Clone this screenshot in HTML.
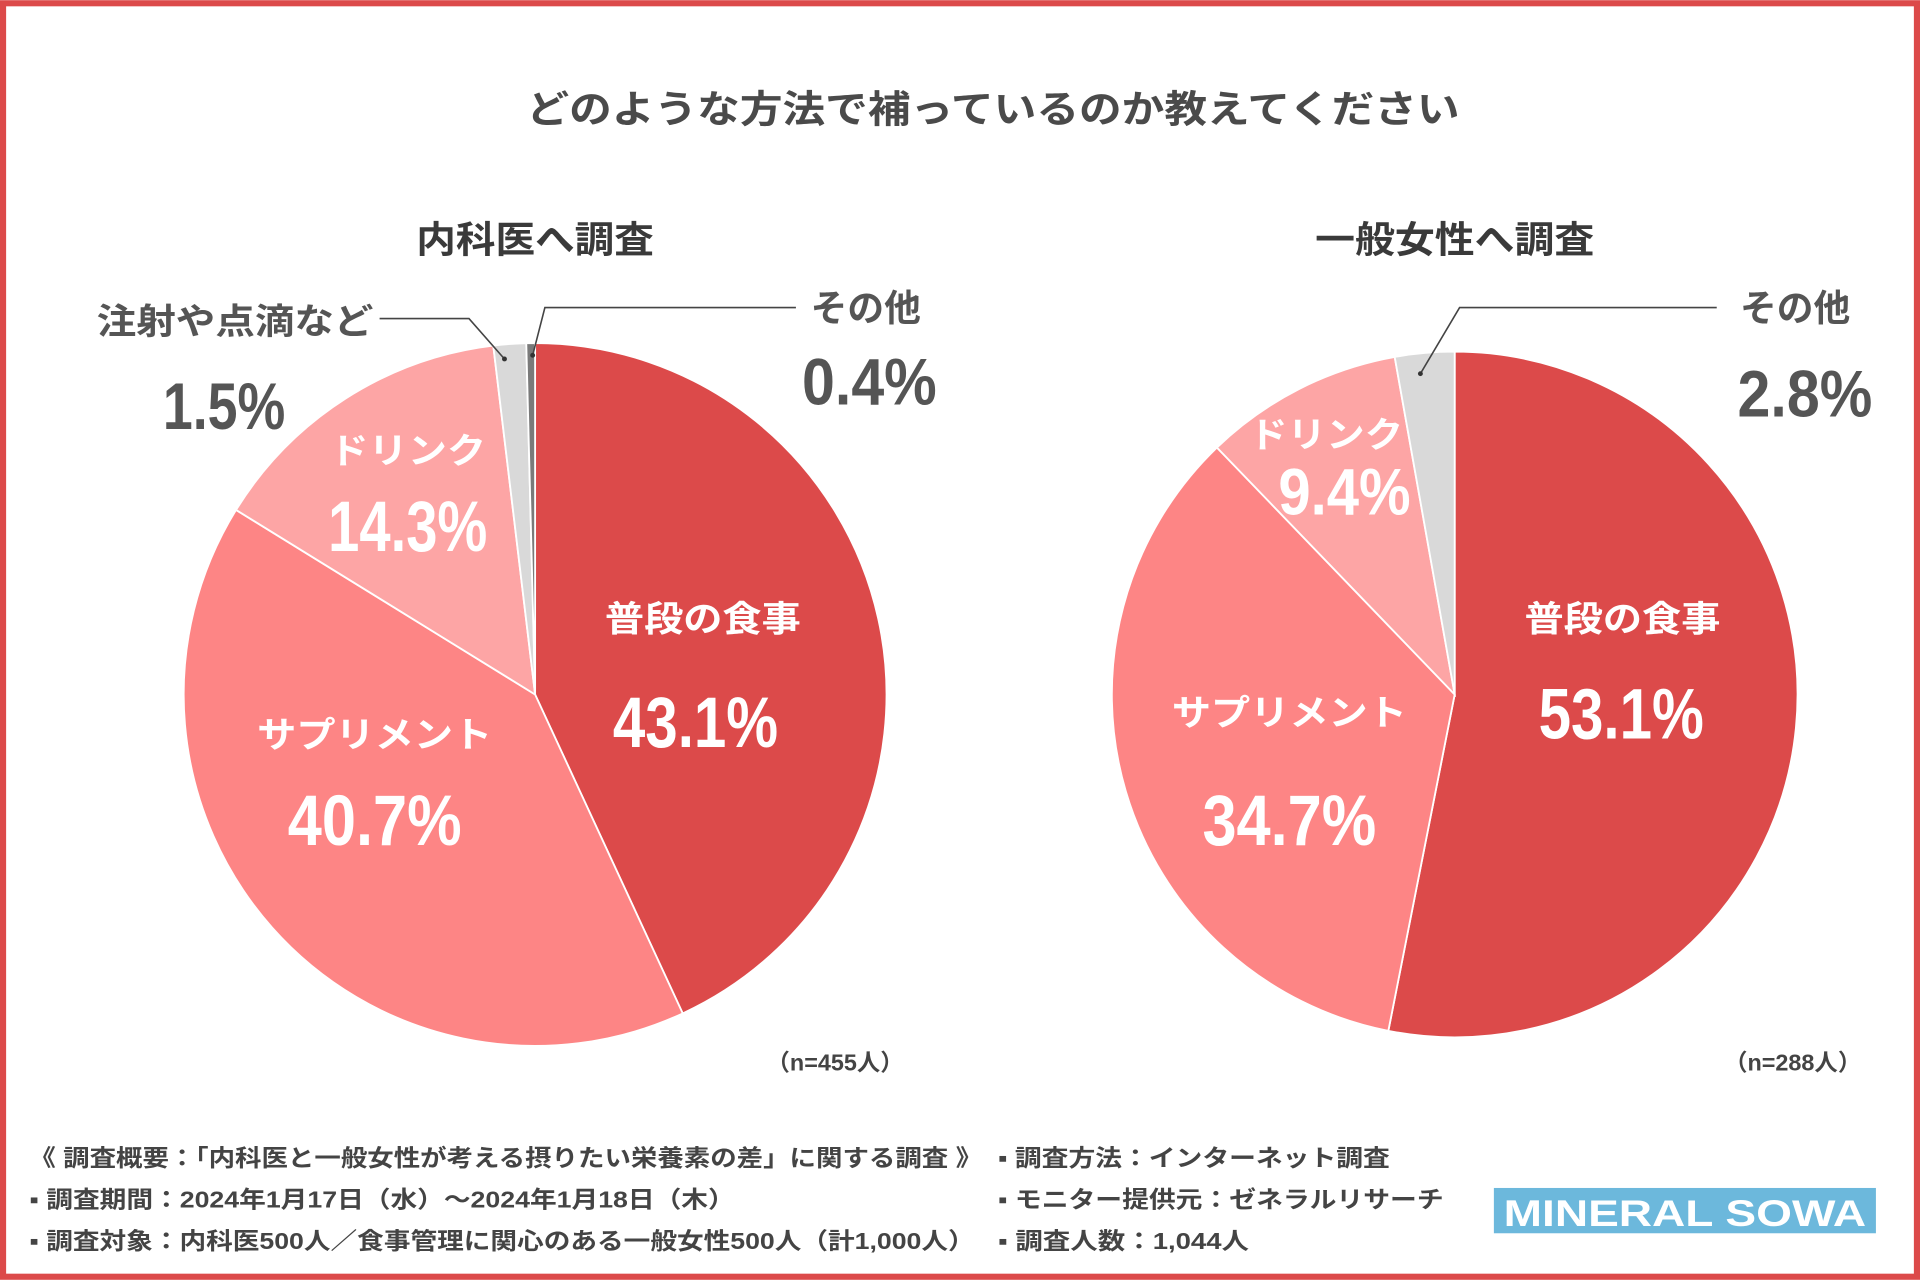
<!DOCTYPE html>
<html><head><meta charset="utf-8"><style>
html,body{margin:0;padding:0;background:#fff;}
svg{display:block;font-family:"Liberation Sans","Noto Sans CJK JP",sans-serif;font-weight:bold;}
</style></head><body>
<svg width="1920" height="1280" viewBox="0 0 1568 1045" xmlns="http://www.w3.org/2000/svg">
<rect x="2.5" y="2.5" width="1563" height="1040" fill="#fff" stroke="#dc4a4a" stroke-width="5"/>
<text x="811" y="100" text-anchor="middle" font-size="31" fill="#4a4a4a" textLength="762" lengthAdjust="spacingAndGlyphs">どのような方法で補っているのか教えてください</text>
<text x="437" y="206" text-anchor="middle" font-size="30" fill="#3a3a3a" textLength="194" lengthAdjust="spacingAndGlyphs">内科医へ調査</text>
<text x="1188" y="206" text-anchor="middle" font-size="30" fill="#3a3a3a" textLength="228" lengthAdjust="spacingAndGlyphs">一般女性へ調査</text>
<g id="pies"></g>
<g id="labels">
<text x="192" y="272" text-anchor="middle" font-size="29" fill="#555" textLength="226" lengthAdjust="spacingAndGlyphs">注射や点滴など</text>
<text x="183" y="350" text-anchor="middle" font-size="54" fill="#555" textLength="100" lengthAdjust="spacingAndGlyphs">1.5%</text>
<text x="707" y="262" text-anchor="middle" font-size="30" fill="#555">その他</text>
<text x="710" y="330" text-anchor="middle" font-size="54" fill="#555" textLength="110" lengthAdjust="spacingAndGlyphs">0.4%</text>
<polyline points="310,260 383,260 412,293" fill="none" stroke="#444" stroke-width="1.3"/>
<circle cx="412" cy="293" r="2" fill="#333"/>
<polyline points="650,251 445,251 435,290" fill="none" stroke="#444" stroke-width="1.3"/>
<circle cx="435" cy="290" r="2" fill="#333"/>
<text x="1466" y="262" text-anchor="middle" font-size="30" fill="#555">その他</text>
<text x="1474" y="340" text-anchor="middle" font-size="54" fill="#555" textLength="110" lengthAdjust="spacingAndGlyphs">2.8%</text>
<polyline points="1402,251 1192,251 1160,305" fill="none" stroke="#444" stroke-width="1.3"/>
<circle cx="1160" cy="305" r="2" fill="#333"/>
<g fill="#fff">
<text x="574" y="515" text-anchor="middle" font-size="29" textLength="160" lengthAdjust="spacingAndGlyphs">普段の食事</text>
<text x="568" y="610" text-anchor="middle" font-size="58" textLength="135" lengthAdjust="spacingAndGlyphs">43.1%</text>
<text x="306" y="610" text-anchor="middle" font-size="29" textLength="192" lengthAdjust="spacingAndGlyphs">サプリメント</text>
<text x="306" y="690" text-anchor="middle" font-size="58" textLength="142" lengthAdjust="spacingAndGlyphs">40.7%</text>
<text x="333" y="378" text-anchor="middle" font-size="29" textLength="128" lengthAdjust="spacingAndGlyphs">ドリンク</text>
<text x="333" y="450" text-anchor="middle" font-size="58" textLength="130" lengthAdjust="spacingAndGlyphs">14.3%</text>
<text x="1325" y="515" text-anchor="middle" font-size="29" textLength="160" lengthAdjust="spacingAndGlyphs">普段の食事</text>
<text x="1324" y="603" text-anchor="middle" font-size="58" textLength="135" lengthAdjust="spacingAndGlyphs">53.1%</text>
<text x="1053" y="592" text-anchor="middle" font-size="29" textLength="192" lengthAdjust="spacingAndGlyphs">サプリメント</text>
<text x="1053" y="690" text-anchor="middle" font-size="58" textLength="142" lengthAdjust="spacingAndGlyphs">34.7%</text>
<text x="1083" y="365" text-anchor="middle" font-size="29" textLength="126" lengthAdjust="spacingAndGlyphs">ドリンク</text>
<text x="1098" y="420" text-anchor="middle" font-size="54" textLength="108" lengthAdjust="spacingAndGlyphs">9.4%</text>
</g>
<text x="682" y="874" text-anchor="middle" font-size="19" fill="#444" textLength="112" lengthAdjust="spacingAndGlyphs">（n=455人）</text>
<text x="1464" y="874" text-anchor="middle" font-size="19" fill="#444" textLength="112" lengthAdjust="spacingAndGlyphs">（n=288人）</text>
</g>
<g font-size="19" fill="#444">
<text x="24" y="952" textLength="778" lengthAdjust="spacingAndGlyphs">《 調査概要：「内科医と一般女性が考える摂りたい栄養素の差」に関する調査 》</text>
<text x="24" y="986" textLength="576" lengthAdjust="spacingAndGlyphs">▪ 調査期間：2024年1月17日（水）～2024年1月18日（木）</text>
<text x="24" y="1020" textLength="772" lengthAdjust="spacingAndGlyphs">▪ 調査対象：内科医500人／食事管理に関心のある一般女性500人（計1,000人）</text>
<text x="815" y="952" textLength="320" lengthAdjust="spacingAndGlyphs">▪ 調査方法：インターネット調査</text>
<text x="815" y="986" textLength="364" lengthAdjust="spacingAndGlyphs">▪ モニター提供元：ゼネラルリサーチ</text>
<text x="815" y="1020" textLength="205" lengthAdjust="spacingAndGlyphs">▪ 調査人数：1,044人</text>
</g>
<rect x="1220" y="970" width="312" height="37" fill="#6cb8dc"/>
<text x="1376" y="1001" text-anchor="middle" font-size="30" fill="#fff" textLength="296" lengthAdjust="spacingAndGlyphs">MINERAL SOWA</text>
</svg>
<script>
const leftCategories = ["普段の食事","サプリメント","ドリンク","注射や点滴など","その他"];
const leftValues = [43.1, 40.7, 14.3, 1.5, 0.4];
const rightCategories = ["普段の食事","サプリメント","ドリンク","その他"];
const rightValues = [53.1, 34.7, 9.4, 2.8];
const leftColors = ["#dc4a4a","#fd8585","#fda5a5","#d9d9d9","#7a7a7a"];
const rightColors = ["#dc4a4a","#fd8585","#fda5a5","#d9d9d9"];
const NS = "http://www.w3.org/2000/svg";
function drawPie(cx, cy, r, cats, vals, colors, prefix){
  const g = document.getElementById('pies');
  const total = vals.reduce((a,b)=>a+b,0);
  let acc = 0;
  vals.forEach((v,i)=>{
    const a0 = acc/total*2*Math.PI - Math.PI/2;
    acc += v;
    const a1 = acc/total*2*Math.PI - Math.PI/2;
    const large = (a1-a0) > Math.PI ? 1 : 0;
    const x0 = cx + r*Math.cos(a0), y0 = cy + r*Math.sin(a0);
    const x1 = cx + r*Math.cos(a1), y1 = cy + r*Math.sin(a1);
    const p = document.createElementNS(NS,'path');
    p.setAttribute('d',`M${cx},${cy} L${x0},${y0} A${r},${r} 0 ${large} 1 ${x1},${y1} Z`);
    p.setAttribute('fill',colors[i]);
    p.setAttribute('stroke','#fff');
    p.setAttribute('stroke-width','1.5');
    
    
    g.appendChild(p);
  });
}
drawPie(437, 567, 287, leftCategories, leftValues, leftColors, 'left-pie');
drawPie(1188, 567, 280, rightCategories, rightValues, rightColors, 'right-pie');
</script>
</body></html>
